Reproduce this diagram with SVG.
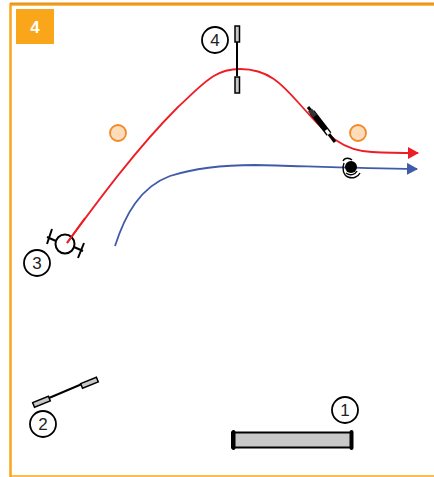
<svg xmlns="http://www.w3.org/2000/svg" width="434" height="477" viewBox="0 0 434 477">
<defs>
<style>
.num{fill:#fff;stroke:#000;stroke-width:1.800}
.lbl{font-family:"Liberation Sans",Arial,sans-serif;font-size:17px;fill:#222;text-anchor:middle}
.bar{fill:#c8c8c8;stroke:#000;stroke-width:1.500}
.blk{stroke:#000;stroke-width:2;fill:none}
.cone{fill:#fddcbc;stroke:#f08a24;stroke-width:1.800}
</style>
<marker id="ar" markerUnits="userSpaceOnUse" markerWidth="11" markerHeight="12" refX="10" refY="6" orient="auto"><path d="M0 0L11 6L0 12Z" fill="#ee1c25"/></marker>
<marker id="ab" markerUnits="userSpaceOnUse" markerWidth="11" markerHeight="12" refX="10" refY="6" orient="auto"><path d="M0 0L11 6L0 12Z" fill="#3f5ba9"/></marker>
</defs>
<rect width="434" height="477" fill="#fff"/>
<g id="frame">
<path d="M10.500 477V4.500H434" fill="none" stroke="#f9a61a" stroke-width="2.500"/>
<path d="M10 3.500H434" stroke="#e8941c" stroke-width="2" fill="none"/>
<path d="M10 476H434" stroke="#f9a61a" stroke-width="1.500" fill="none"/>
</g>
<g id="badge">
<rect x="16" y="9" width="38" height="35" fill="#f9a61a"/>
<text x="35" y="33" font-family="'Liberation Sans',Arial,sans-serif" font-size="17" font-weight="bold" fill="#fff" text-anchor="middle">4</text>
</g>
<g id="connectors">
<path d="M67 243C95 205 135 150 178 107C205 82 215 69 240 69C272 69 285 88 305 110C325 132 340 151 372 152C390 153 405 153 418 153" fill="none" stroke="#ee1c25" stroke-width="1.800" marker-end="url(#ar)"/>
<path d="M115 246C125 215 140 187 170 176C195 168 225 165 255 165C300 166 350 168 417 169" fill="none" stroke="#3f5ba9" stroke-width="1.800" marker-end="url(#ab)"/>
</g>
<g id="cone-a"><circle cx="118" cy="133" r="8" class="cone"/></g>
<g id="cone-b"><circle cx="358" cy="133" r="8" class="cone"/></g>
<g id="jump-4">
<path d="M237 41V76" class="blk"/>
<rect x="235" y="26" width="4.500" height="16" class="bar"/>
<rect x="235" y="77" width="4.500" height="16" class="bar"/>
<circle cx="215" cy="40" r="13" class="num"/>
<text x="215" y="46" class="lbl">4</text>
</g>
<g id="jump-black">
<path d="M308 107L335 142" stroke="#000" stroke-width="3"/>
<path d="M312 112L329 134" stroke="#000" stroke-width="6"/>
<path d="M326 130L329 134" stroke="#fff" stroke-width="3"/>
<path d="M310 110L315 116" stroke="#333" stroke-width="5"/>
</g>
<g id="handler">
<circle cx="351" cy="167" r="6" fill="#000"/>
<path d="M343 161C345 157 350 158 352 160M344 163C342 168 343 175 348 177C353 179 358 177 360 173M346 173C350 176 355 175 357 171" fill="none" stroke="#000" stroke-width="1.400"/>
</g>
<g id="tire-3">
<circle cx="65" cy="244" r="9.500" fill="none" stroke="#000" stroke-width="2"/>
<path d="M56 241L47 237M74 247L83 251M52 229L47 244M84 243L78 258" class="blk"/>
<path d="M67 243L85 218" stroke="#ee1c25" stroke-width="1.800" fill="none"/>
<circle cx="37" cy="263" r="13" class="num"/>
<text x="37" y="269" class="lbl">3</text>
</g>
<g id="jump-2">
<path d="M49 398L82 384" class="blk"/>
<rect x="33" y="399.500" width="17" height="5" class="bar" transform="rotate(-22 41 402)"/>
<rect x="81" y="380.500" width="17" height="5" class="bar" transform="rotate(-22 89 383)"/>
<circle cx="43" cy="424" r="13" class="num"/>
<text x="43" y="430" class="lbl">2</text>
</g>
<g id="tunnel-1">
<rect x="232" y="432.500" width="120" height="15" class="bar" style="stroke-width:2"/>
<path d="M233.500 432V448M351.500 432V448" stroke="#000" stroke-width="4" stroke-linecap="round"/>
<circle cx="345" cy="410" r="13" class="num"/>
<text x="345" y="416" class="lbl">1</text>
</g>
</svg>
